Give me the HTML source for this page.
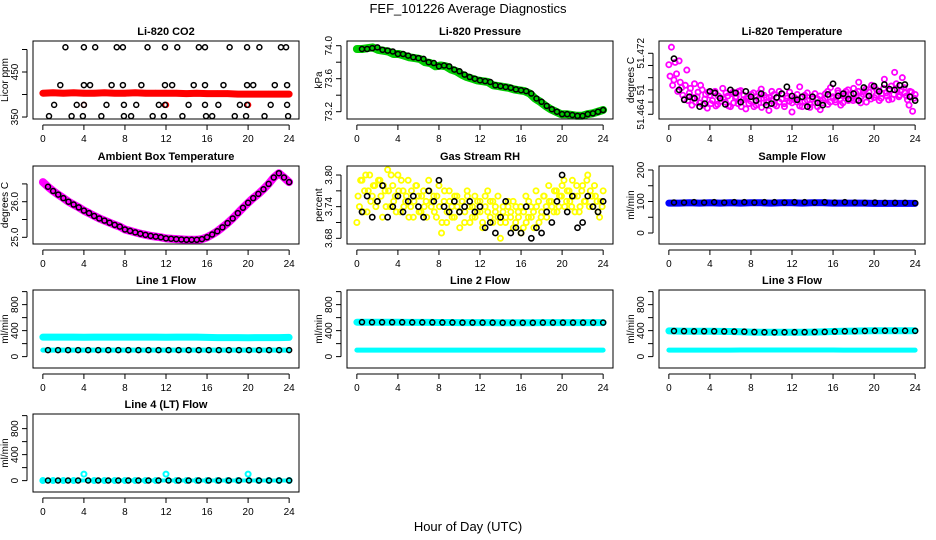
<!DOCTYPE html>
<html><head><meta charset="utf-8"><style>
html,body{margin:0;padding:0;background:#fff}
svg{display:block;font-family:"Liberation Sans",Arial,sans-serif}
</style></head><body>
<svg id="chart" width="936" height="540" viewBox="0 0 936 540">
<text x="468" y="13" text-anchor="middle" font-size="13">FEF_101226  Average Diagnostics</text>
<text x="468" y="531" text-anchor="middle" font-size="13">Hour of Day (UTC)</text>
</svg>
<script>
// ---- data ----
const xTicks = [0,4,8,12,16,20,24];
const co2RedHourly = [403,404,403,404,403,403,404,403,403,404,403,403,403,403,402,403,402,402,402,401,401,401,401,401,401];
const co2RedLowT = [4,12,20];
const co2RedLowV = [377,377,377];
const co2BlackT = [2.2,4.0,5.1,7.2,7.8,10.2,11.9,13.1,15.2,15.8,18.2,19.9,21.1,23.2,23.7, 1.7,4.0,4.6,6.7,7.8,9.6,11.9,12.6,14.7,15.8,17.6,19.9,20.5,22.6,23.8, 1.1,3.3,4.0,6.2,7.9,9.1,11.3,11.9,14.2,15.8,17.1,19.2,19.9,22.2,23.8, 0.6,2.8,3.9,5.7,7.9,8.6,10.7,11.8,13.6,15.9,16.5,18.7,19.8,21.6,23.9];
const co2BlackV = [505,505,505,505,505,505,505,505,505,505,505,505,505,505,505, 421,421,421,421,421,421,421,421,421,421,421,421,421,421,421, 377,377,377,377,377,377,377,377,377,377,377,377,377,377,377, 352,352,352,352,352,352,352,352,352,352,352,352,352,352,352];
const pressBlack = [73.96,73.96,73.97,73.98,73.95,73.94,73.93,73.90,73.90,73.88,73.86,73.85,73.84,73.80,73.79,73.75,73.76,73.75,73.71,73.69,73.65,73.62,73.60,73.58,73.57,73.56,73.52,73.51,73.50,73.49,73.47,73.46,73.45,73.42,73.36,73.32,73.27,73.23,73.20,73.17,73.17,73.16,73.15,73.15,73.17,73.18,73.20,73.22];
const tempMagenta = [10.5,12.8,8.5,9.3,11.0,7.5,6.0,9.8,6.8,5.2,8.0,6.3,5.5,7.2,6.0,4.8,6.5,5.8,7.0,5.3,6.2,7.4,5.6,6.4,5.0,6.9,6.1,5.4,7.1,5.9,4.7,6.3,5.7,6.8,5.2,6.0,7.3,5.5,6.2,4.5,5.8,6.6,5.1,7.0,6.0,5.4,6.4,5.7,4.3,6.2,5.6,7.6,5.0,6.5,5.8,4.9,6.3,5.5,6.0,4.6,5.9,6.7,5.3,7.5,6.1,5.6,6.8,5.2,6.4,7.0,5.8,6.6,7.4,5.9,8.2,6.3,7.0,5.6,6.9,7.8,6.2,7.2,5.8,6.7,8.6,6.4,7.1,6.0,9.5,7.3,6.5,8.8,6.8,5.9,7.0,4.4,6.6];
const tempMagenta2 = [9.0,7.8,10.8,7.0,8.2,6.5,7.8,5.8,7.4,6.2,5.6,6.9,7.8,5.2,6.6,6.9,5.4,6.8,5.1,6.4,5.7,6.0,6.8,5.1,6.7,5.5,6.3,7.0,5.0,6.5,6.1,5.4,6.6,5.0,6.3,6.8,4.9,6.5,5.6,6.2,7.0,5.3,6.2,5.6,6.7,5.0,6.1,6.9,5.5,5.9,6.6,5.1,6.2,5.7,6.8,5.3,6.0,6.7,5.0,6.4,5.5,6.1,7.0,5.6,6.3,5.9,7.1,6.0,5.5,6.5,7.2,6.0,5.8,6.8,7.0,5.5,6.6,7.3,6.4,6.0,7.6,6.5,7.0,6.1,7.4,6.8,5.9,7.7,6.6,8.0,6.3,7.2,7.5,6.4,5.2,6.9,6.1];
const tempBlack = [11.3,7.2,5.9,6.3,6.1,5.0,5.4,7.0,6.8,6.1,5.3,7.2,6.8,5.6,7.0,6.3,5.8,6.7,5.2,5.4,6.2,6.7,7.6,6.4,5.9,6.3,5.0,6.3,5.5,5.2,6.6,8.0,6.4,6.7,6.0,6.7,5.8,7.5,6.4,7.7,7.0,7.9,7.3,7.2,7.8,7.9,6.3,5.8];
const ambient = [26.55,26.42,26.30,26.20,26.10,26.00,25.92,25.84,25.75,25.68,25.60,25.53,25.47,25.41,25.35,25.30,25.22,25.18,25.14,25.10,25.07,25.04,25.02,25.00,24.97,24.96,24.95,24.94,24.93,24.93,24.93,24.95,25.00,25.08,25.17,25.28,25.40,25.53,25.68,25.83,25.97,26.10,26.22,26.35,26.50,26.68,26.80,26.68,26.55];
const rhYellow = [3.71,3.74,3.79,3.77,3.73,3.80,3.76,3.78,3.75,3.79,3.72,3.77,3.81,3.74,3.78,3.76,3.80,3.73,3.77,3.75,3.79,3.74,3.72,3.78,3.76,3.73,3.77,3.75,3.79,3.74,3.76,3.72,3.78,3.69,3.75,3.71,3.77,3.74,3.72,3.76,3.73,3.75,3.71,3.77,3.74,3.72,3.76,3.73,3.75,3.71,3.74,3.77,3.72,3.75,3.73,3.76,3.71,3.74,3.72,3.75,3.73,3.70,3.74,3.72,3.69,3.73,3.71,3.75,3.72,3.70,3.74,3.71,3.73,3.76,3.72,3.75,3.74,3.77,3.73,3.76,3.78,3.74,3.77,3.75,3.79,3.73,3.76,3.74,3.78,3.75,3.80,3.77,3.74,3.76,3.73,3.75,3.77];
const rhYellow2 = [3.76,3.79,3.73,3.80,3.77,3.75,3.78,3.74,3.79,3.76,3.78,3.74,3.77,3.80,3.75,3.73,3.77,3.79,3.74,3.76,3.72,3.77,3.75,3.78,3.73,3.76,3.74,3.72,3.77,3.75,3.73,3.76,3.74,3.71,3.77,3.73,3.75,3.72,3.76,3.74,3.70,3.75,3.73,3.76,3.71,3.74,3.72,3.75,3.73,3.70,3.76,3.73,3.75,3.71,3.74,3.72,3.68,3.73,3.71,3.74,3.72,3.75,3.71,3.73,3.74,3.70,3.76,3.72,3.74,3.73,3.77,3.75,3.72,3.76,3.74,3.78,3.75,3.73,3.77,3.74,3.76,3.79,3.75,3.77,3.74,3.76,3.78,3.73,3.77,3.75,3.79,3.74,3.76,3.78,3.75,3.72,3.74];
const rhBlack = [3.73,3.76,3.72,3.75,3.78,3.72,3.74,3.76,3.73,3.75,3.76,3.74,3.72,3.77,3.75,3.79,3.74,3.73,3.75,3.73,3.74,3.75,3.73,3.74,3.70,3.71,3.69,3.72,3.75,3.69,3.70,3.69,3.74,3.68,3.70,3.69,3.73,3.71,3.75,3.80,3.73,3.76,3.70,3.71,3.76,3.74,3.73,3.75];
const sampleBlue = [95,95,96,95,96,95,96,95,96,96,95,96,96,95,96,96,95,95,95,95,94,94,94,94,94];
const sampleBlack = [97,97,98,97,98,97,98,98,97,98,98,97,98,98,97,98,97,98,97,96,97,96,96,96,95];
const line1High = [300,300,300,300,298,300,300,300,300,300,300,300,298,300,300,300,295,292,292,292,290,292,292,292,295];
const line1Low = [100,100,100,100,100,100,100,100,100,100,100,100,100,100,100,100,100,100,100,100,100,100,100,100,100];
const line2High = [530,528,528,528,528,527,527,526,525,525,524,524,523,523,522,522,522,522,523,523,524,524,524,524,524];
const line2Low = [100,100,100,100,100,100,100,100,100,100,100,100,100,100,100,100,100,100,100,100,100,100,100,100,100];
const line3High = [395,392,390,390,390,388,386,384,378,375,374,375,376,376,378,380,386,390,392,395,398,399,399,398,397];
const line3Low = [100,100,100,100,100,100,100,102,102,102,102,102,102,102,102,102,102,100,100,100,100,100,100,100,100];
const line4Cyan = [2,2,2,2,100,2,2,2,2,2,2,2,100,2,2,2,2,2,2,2,100,2,2,2,2];
const line4Black = [2,2,2,2,2,2,2,2,2,2,2,2,2,2,2,2,2,2,2,2,2,2,2,2,2];

// ---- layout ----
const colLeft = [33,347,659], rowTop = [41,166,290,414], W = 266, H = 78;
const svg = document.getElementById('chart');
const NS = 'http://www.w3.org/2000/svg';
function mk(tag, attrs, parent){const e=document.createElementNS(NS,tag);for(const k in attrs)e.setAttribute(k,attrs[k]);(parent||svg).appendChild(e);return e;}

function panel(cfg){
  const L=colLeft[cfg.col], T=rowTop[cfg.row];
  const g=mk('g',{});
  
  
  const xs=h=>L+(h+0.96)/25.92*W;
  const ys=v=>T+H-(v-cfg.lo)/(cfg.hi-cfg.lo)*H;
  cfg.draw(g,xs,ys);
  const box=mk('rect',{x:L,y:T,width:W,height:H,fill:'none',stroke:'#000','stroke-width':1},g);
  
  
  const t=mk('text',{x:L+W/2,y:T-6,'text-anchor':'middle','font-size':11,'font-weight':'bold'},g);
  t.textContent=cfg.title;
  
  
  mk('line',{x1:xs(0),x2:xs(24),y1:T+H+6,y2:T+H+6,stroke:'#000'},g);
  xTicks.forEach(v=>{
    mk('line',{x1:xs(v),x2:xs(v),y1:T+H+6,y2:T+H+11,stroke:'#000'},g);
    const lb=mk('text',{x:xs(v),y:T+H+23,'text-anchor':'middle','font-size':10},g);
    lb.textContent=v;
    
    
  });
  const ax=L-6;
  mk('line',{x1:ax,x2:ax,y1:ys(cfg.ticks[0]),y2:ys(cfg.ticks[cfg.ticks.length-1]),stroke:'#000'},g);
  cfg.ticks.forEach(v=>mk('line',{x1:ax-5,x2:ax,y1:ys(v),y2:ys(v),stroke:'#000'},g));
  cfg.labels.forEach((v,i)=>{
    const y=ys(cfg.labelAt[i]);
    const lb=mk('text',{x:ax-9,y:y,'text-anchor':'middle','font-size':10,transform:`rotate(-90,${ax-9},${y})`},g);
    lb.textContent=v;
    
    
  });
  const yl=mk('text',{x:L-25,y:T+H/2,'text-anchor':'middle','font-size':10,transform:`rotate(-90,${L-25},${T+H/2})`},g);
  yl.textContent=cfg.ylab;
  
  
}
// points spread evenly from t0 to t1
function pts(g,arr,xs,ys,color,r,sw,t0,t1){
  const step=(t1-t0)/(arr.length-1);
  arr.forEach((v,i)=>{
    const c=mk('circle',{cx:xs(t0+i*step),cy:ys(v),r:r,fill:'none',stroke:color,'stroke-width':sw},g);
    
    
  });
}
function band(g,arr,xs,ys,color,w,t0,t1){
  const step=(t1-t0)/(arr.length-1);
  const p=arr.map((v,i)=>xs(t0+i*step).toFixed(1)+','+ys(v).toFixed(1)).join(' ');
  const l=mk('polyline',{points:p,fill:'none',stroke:color,'stroke-width':w,'stroke-linejoin':'round','stroke-linecap':'round'},g);
  
  
}

panel({name:'co2-panel',col:0,row:0,title:'Li-820 CO2',ylab:'Licor ppm',lo:345.6,hi:518.9,ticks:[350,400,450,500],labels:['350','450'],labelAt:[350,450],
  draw:(g,xs,ys)=>{band(g,co2RedHourly,xs,ys,'#f00',7,0,24);pts(g,co2RedHourly,xs,ys,'#f00',2.5,1.5,0,24);
    co2RedLowT.forEach((t,i)=>mk('circle',{cx:xs(t),cy:ys(co2RedLowV[i]),r:2.5,fill:'none',stroke:'#f00','stroke-width':1.5},g));
    co2BlackT.forEach((t,i)=>mk('circle',{cx:xs(t),cy:ys(co2BlackV[i]),r:2.5,fill:'none',stroke:'#000','stroke-width':1.5},g));}});
panel({name:'pressure-panel',col:1,row:0,title:'Li-820 Pressure',ylab:'kPa',lo:73.1115,hi:74.057,ticks:[73.2,73.4,73.6,73.8,74.0],labels:['73.2','73.6','74.0'],labelAt:[73.2,73.6,74.0],
  draw:(g,xs,ys)=>{band(g,pressBlack,xs,ys,'#0c0',8,0,24);pts(g,pressBlack,xs,ys,'#000',2.5,1.5,0.5,24);}});
panel({name:'licor-temp-panel',col:2,row:0,title:'Li-820 Temperature',ylab:'degrees C',lo:3.38,hi:13.61,ticks:[4,5.6,7.2,8.8,10.4,12],labels:['51.464','51','51.472'],labelAt:[4,7.2,12],
  draw:(g,xs,ys)=>{pts(g,tempMagenta,xs,ys,'#f0f',2.6,1.8,0,24);pts(g,tempMagenta2,xs,ys,'#f0f',2.6,1.8,0.12,23.9);pts(g,tempBlack,xs,ys,'#000',2.6,1.6,0.5,24);}});
panel({name:'ambient-temp-panel',col:0,row:1,title:'Ambient Box Temperature',ylab:'degrees C',lo:24.812,hi:27.003,ticks:[25,25.5,26,26.5],labels:['25.0','26.0'],labelAt:[25,26],
  draw:(g,xs,ys)=>{band(g,ambient,xs,ys,'#f0f',8,0,24);pts(g,ambient.slice(1),xs,ys,'#000',2.5,1.5,0.5,24);}});
panel({name:'rh-panel',col:1,row:1,title:'Gas Stream RH',ylab:'percent',lo:3.6692,hi:3.8171,ticks:[3.68,3.71,3.74,3.77,3.80],labels:['3.68','3.74','3.80'],labelAt:[3.68,3.74,3.80],
  draw:(g,xs,ys)=>{pts(g,rhYellow,xs,ys,'#ff0',2.6,1.8,0,24);pts(g,rhYellow2,xs,ys,'#ff0',2.6,1.8,0.12,23.9);pts(g,rhBlack,xs,ys,'#000',2.6,1.6,0.5,24);}});
panel({name:'sample-flow-panel',col:2,row:1,title:'Sample Flow',ylab:'ml/min',lo:-34.9,hi:212.7,ticks:[0,50,100,150,200],labels:['0','100','200'],labelAt:[0,100,200],
  draw:(g,xs,ys)=>{band(g,sampleBlue,xs,ys,'#00f',7,0,24);pts(g,sampleBlack,xs,ys,'#000',2.5,1.5,0.5,24);}});
const flowTicks=[0,200,400,600,800,1000];
panel({name:'line1-flow-panel',col:0,row:2,title:'Line 1 Flow',ylab:'ml/min',lo:-175,hi:1025,ticks:flowTicks,labels:['0','400','800'],labelAt:[0,400,800],
  draw:(g,xs,ys)=>{band(g,line1High,xs,ys,'#0ff',7,0,24);band(g,line1Low,xs,ys,'#0ff',5,0,24);pts(g,line1Low,xs,ys,'#000',2.5,1.5,0.5,24);}});
panel({name:'line2-flow-panel',col:1,row:2,title:'Line 2 Flow',ylab:'ml/min',lo:-175,hi:1025,ticks:flowTicks,labels:['0','400','800'],labelAt:[0,400,800],
  draw:(g,xs,ys)=>{band(g,line2High,xs,ys,'#0ff',7,0,24);band(g,line2Low,xs,ys,'#0ff',5,0,24);pts(g,line2High,xs,ys,'#000',2.5,1.5,0.5,24);}});
panel({name:'line3-flow-panel',col:2,row:2,title:'Line 3 Flow',ylab:'ml/min',lo:-175,hi:1025,ticks:flowTicks,labels:['0','400','800'],labelAt:[0,400,800],
  draw:(g,xs,ys)=>{band(g,line3High,xs,ys,'#0ff',7,0,24);band(g,line3Low,xs,ys,'#0ff',5,0,24);pts(g,line3High,xs,ys,'#000',2.5,1.5,0.5,24);}});
panel({name:'line4-flow-panel',col:0,row:3,title:'Line 4 (LT) Flow',ylab:'ml/min',lo:-175,hi:1025,ticks:flowTicks,labels:['0','400','800'],labelAt:[0,400,800],
  draw:(g,xs,ys)=>{pts(g,line4Cyan,xs,ys,'#0ff',2.5,2,0,24);band(g,line4Black,xs,ys,'#0ff',4,0,24);pts(g,line4Black,xs,ys,'#000',2.5,1.5,0.5,24);}});
</script>
</body></html>
